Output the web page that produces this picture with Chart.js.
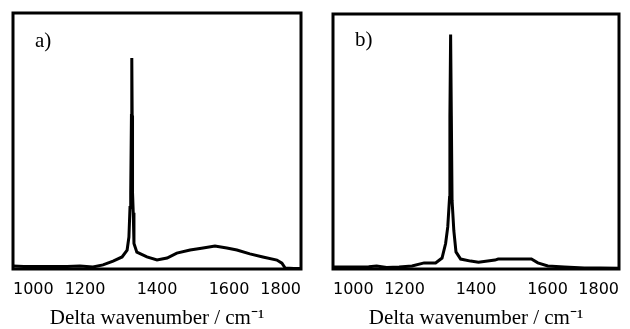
<!DOCTYPE html>
<html>
<head>
<meta charset="utf-8">
<script src="https://cdn.jsdelivr.net/npm/chart.js@4"></script>
<style>
  body { margin: 0; background: #fff; width: 630px; height: 329px; position: relative; overflow: hidden; }
  .panel { position: absolute; top: 0; }
  .tag { position: absolute; font-family: "Liberation Serif", serif; font-size: 21px; color: #000; }
</style>
</head>
<body>
<div class="panel" style="left:0"><canvas id="chartA" width="316" height="329"></canvas></div>
<div class="panel" style="left:316px"><canvas id="chartB" width="314" height="329"></canvas></div>
<div class="tag" style="left:35px; top:28px">a)</div>
<div class="tag" style="left:355px; top:27px">b)</div>
<script>
// Raman spectra, intensity in arbitrary units (0-100)
var waveA = [1000, 1030, 1100, 1150, 1186, 1222, 1250, 1278, 1303, 1317, 1322, 1325, 1327, 1329, 1330, 1331, 1332, 1334, 1336, 1344, 1372, 1400, 1428, 1455, 1492, 1528, 1561, 1594, 1622, 1658, 1694, 1733, 1747, 1756, 1780, 1800];
var intensityA = [1.2, 1.0, 1.0, 1.0, 1.2, 0.8, 1.6, 3.1, 4.7, 7.4, 12.5, 24, 30, 60, 82.4, 60, 30, 22, 10, 6.6, 4.7, 3.5, 4.3, 6.2, 7.4, 8.2, 9.0, 8.2, 7.4, 5.9, 4.7, 3.5, 2.3, 0.4, 0.2, 0.2];

var waveB = [1000, 1050, 1100, 1122, 1150, 1185, 1221, 1255, 1287, 1305, 1315, 1321, 1326, 1327, 1329, 1331, 1333, 1338, 1344, 1357, 1385, 1407, 1453, 1462, 1509, 1555, 1573, 1601, 1647, 1703, 1748, 1800];
var intensityB = [0.8, 0.8, 0.9, 1.2, 0.6, 0.8, 1.2, 2.4, 2.4, 4.3, 10, 16.5, 28, 60, 92, 60, 27, 15, 6.7, 3.9, 3.1, 2.7, 3.5, 3.9, 3.9, 3.9, 2.4, 1.2, 0.8, 0.4, 0.4, 0.3];

var xTicks = [1000, 1200, 1400, 1600, 1800];
var xTitle = 'Delta wavenumber / cm\u207B\u00B9';

var frame = {
  id: 'frame',
  afterDatasetsDraw(chart) {
    const a = chart.chartArea;
    const c = chart.ctx;
    c.save();
    c.strokeStyle = '#000';
    c.lineWidth = 3;
    c.strokeRect(a.left, a.top, a.right - a.left, a.bottom - a.top);
    c.restore();
  }
};

function makeChart(id, xs, ys, pad) {
  let pts = xs.map((x, i) => ({ x: x, y: ys[i] }));
  return new Chart(document.getElementById(id), {
    type: 'line',
    data: {
      datasets: [{
        data: pts,
        borderColor: '#000',
        borderWidth: 3,
        pointRadius: 0,
        tension: 0
      }]
    },
    options: {
      responsive: false,
      animation: false,
      devicePixelRatio: 1,
      layout: { padding: pad },
      plugins: { legend: { display: false }, tooltip: { enabled: false } },
      scales: {
        x: {
          type: 'linear',
          min: 1000,
          max: 1800,
          afterBuildTicks: s => { s.ticks = xTicks.map(v => ({ value: v })); },
          afterFit: s => { s.height = 60; },
          grid: { display: false, drawTicks: false },
          border: { display: false },
          ticks: {
            align: 'inner',
            padding: 11,
            maxRotation: 0,
            autoSkip: false,
            color: '#000',
            callback: v => String(v),
            font: { family: 'DejaVu Sans', size: 16 }
          },
          title: {
            display: true,
            text: xTitle,
            color: '#000',
            padding: { top: 0, bottom: 0 },
            font: { family: 'Liberation Serif', size: 21, lineHeight: 1 }
          }
        },
        y: {
          display: false,
          min: 0,
          max: 100
        }
      }
    },
    plugins: [frame]
  });
}

makeChart('chartA', waveA, intensityA, { left: 13, right: 15, top: 13, bottom: 0 });
makeChart('chartB', waveB, intensityB, { left: 17, right: 8, top: 14, bottom: 0 });
</script>
</body>
</html>
